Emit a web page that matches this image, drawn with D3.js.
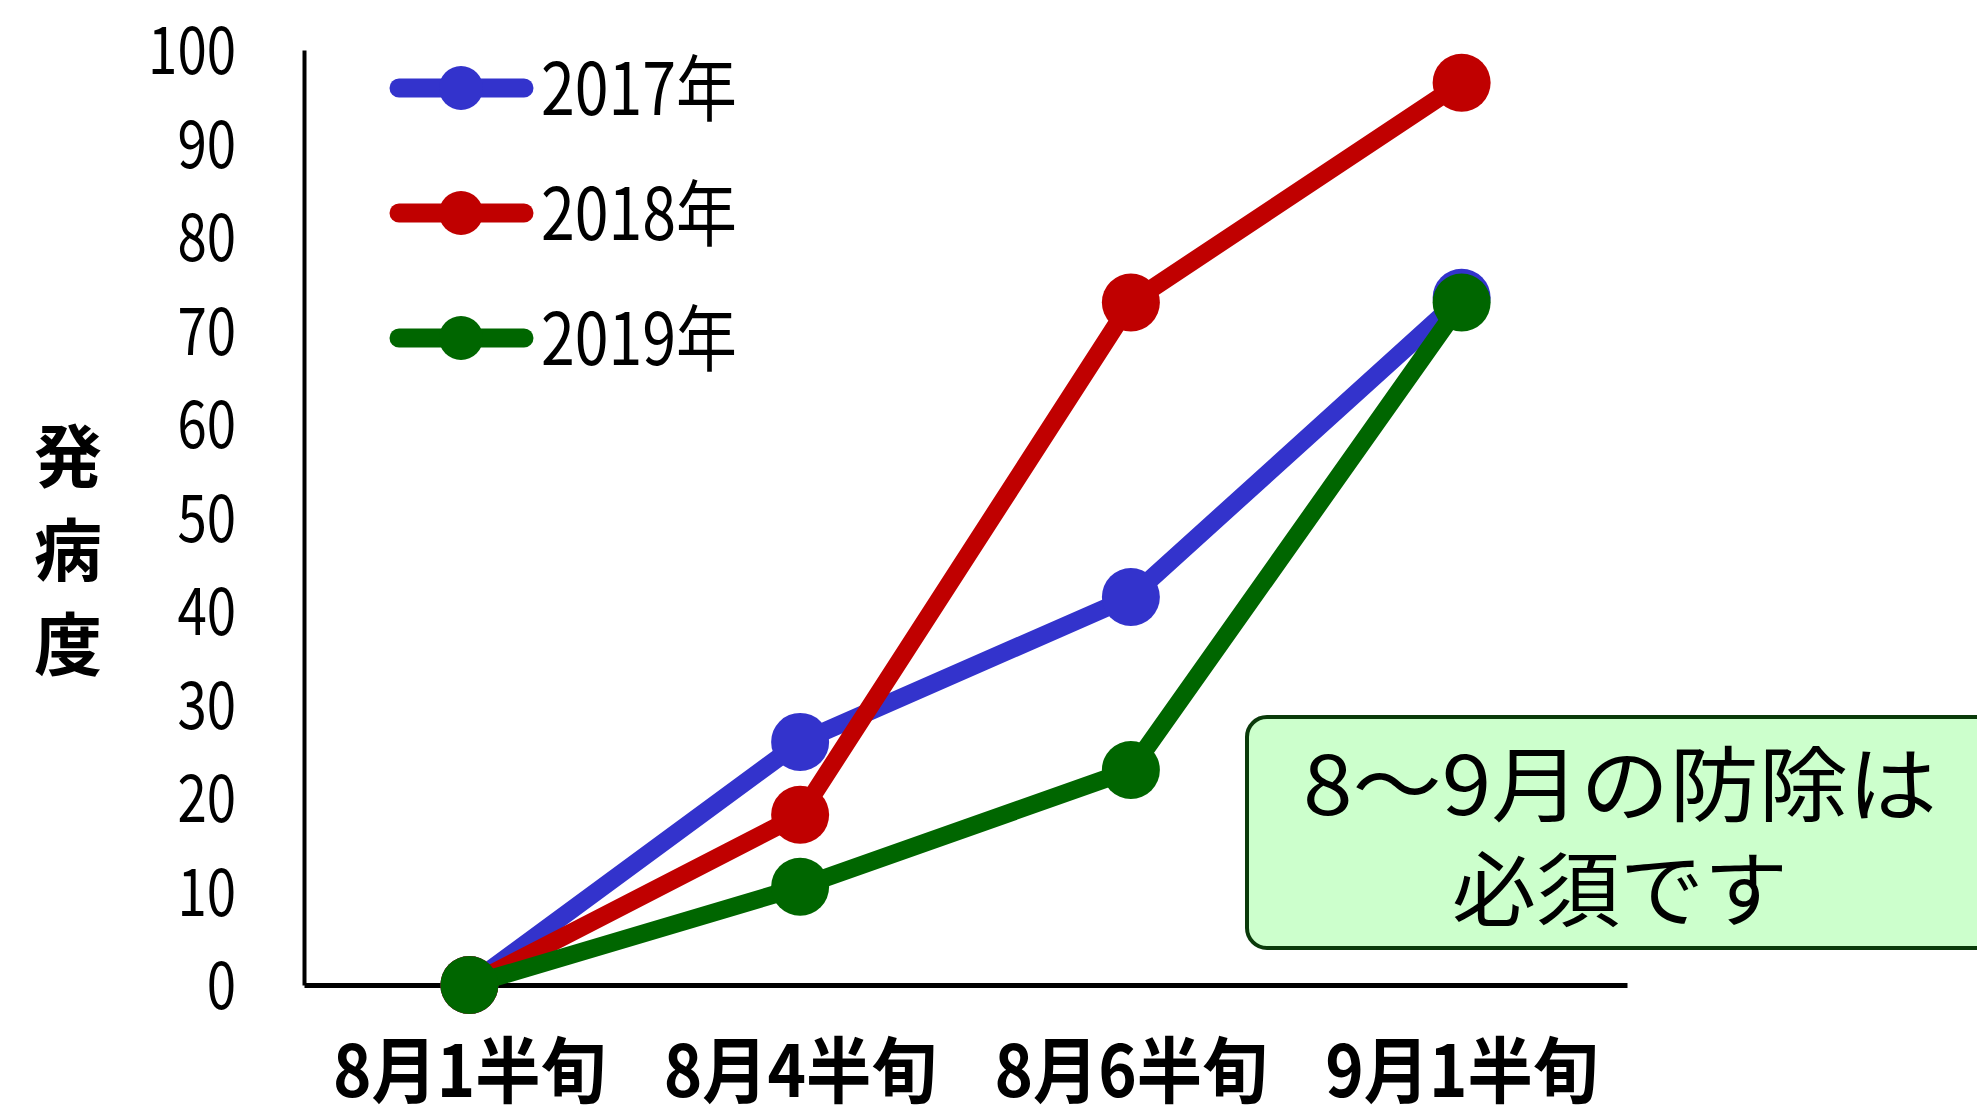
<!DOCTYPE html>
<html>
<head>
<meta charset="utf-8">
<script src="https://cdn.jsdelivr.net/npm/d3@7"></script>
<style>
  body { margin: 0; background: #fff; }
  text { font-family: "Noto Sans CJK JP", "Noto Sans", sans-serif; fill: #000; }
</style>
</head>
<body>
<div id="graphicContainer"></div>
<script>
// data
const categories = ["8月1半旬", "8月4半旬", "8月6半旬", "9月1半旬"]
const seriesNames = ["2017年", "2018年", "2019年"]
const values2017 = [0, 26, 41.5, 73.5]
const values2018 = [0, 18.2, 73, 96.5]
const values2019 = [0, 10.5, 23, 73]
const yTicks = [0, 10, 20, 30, 40, 50, 60, 70, 80, 90, 100]
const yTitle = ["発", "病", "度"]
const noteLines = ["8～9月の防除は", "必須です"]

const colors = ["#3333cc", "#c00000", "#006600"]
const series = [values2017, values2018, values2019].map(function (v, i) {
  return { name: seriesNames[i], color: colors[i], values: v }
})

var width = 1977
var height = 1114

var svg = d3.select("#graphicContainer").append("svg")
  .attr("width", width)
  .attr("height", height)

var x = d3.scalePoint().domain(categories).range([304, 1627]).padding(0.5)
var y = d3.scaleLinear().domain([0, 100]).range([985, 50])

// squeeze a text horizontally so it fits a given width
function squeeze(sel, targetW) {
  sel.each(function (d, i) {
    var t = d3.select(this)
    var w = this.getComputedTextLength()
    var k = typeof targetW == "function" ? targetW(w, i) : targetW / w
    t.attr("transform", (t.attr("data-tr") || "") + " scale(" + k + ",1)")
  })
}

// y axis
var yAxis = svg.append("g")
  .attr("transform", "translate(304,0)")
  .call(d3.axisLeft(y).tickValues(yTicks).tickSize(0).tickSizeOuter(0).tickPadding(0))
yAxis.select(".domain").attr("stroke", "#000").attr("stroke-width", 4)
yAxis.selectAll(".tick text")
  .attr("x", 0).attr("dy", "0.36em")
  .style("font-size", "66px")
  .style("font-family", "\"Noto Sans CJK JP\", sans-serif")
  .attr("data-tr", "translate(-68,0)")
squeeze(yAxis.selectAll(".tick text"), function () { return 0.8 })

// x axis
var xAxis = svg.append("g")
  .attr("transform", "translate(0,985)")
  .call(d3.axisBottom(x).tickSize(0).tickSizeOuter(0).tickFormat(""))
xAxis.select(".domain").attr("stroke", "#000").attr("stroke-width", 5)

var xLabels = svg.selectAll(".xLabel")
  .data(categories)
  .enter().append("text")
  .attr("class", "xLabel")
  .attr("data-tr", function (d) { return "translate(" + x(d) + ",1097)" })
  .attr("text-anchor", "middle")
  .style("font-size", "72px")
  .style("font-weight", "bold")
  .text(function (d) { return d })
squeeze(xLabels, 273)

// y title, one character per row
svg.selectAll(".yTitle")
  .data(yTitle)
  .enter().append("text")
  .attr("class", "yTitle")
  .attr("x", 68)
  .attr("y", function (d, i) { return 458 + i * 94 })
  .attr("dy", "0.36em")
  .attr("text-anchor", "middle")
  .style("font-size", "68px")
  .style("font-weight", "bold")
  .text(function (d) { return d })

// series
var line = d3.line()
  .x(function (d, i) { return x(categories[i]) })
  .y(function (d) { return y(d) })

series.forEach(function (s) {
  var g = svg.append("g")
  g.append("path")
    .attr("d", line(s.values))
    .attr("fill", "none")
    .attr("stroke", s.color)
    .attr("stroke-width", 18)
    .attr("stroke-linejoin", "round")
  g.selectAll("circle")
    .data(s.values)
    .enter().append("circle")
    .attr("cx", function (d, i) { return x(categories[i]) })
    .attr("cy", function (d) { return y(d) })
    .attr("r", 29)
    .attr("fill", s.color)
})

// legend
var legend = svg.selectAll(".legend")
  .data(series)
  .enter().append("g")
  .attr("class", "legend")
  .attr("transform", function (d, i) { return "translate(0," + (88 + i * 125) + ")" })

legend.append("line")
  .attr("x1", 399).attr("x2", 524)
  .attr("stroke", function (d) { return d.color })
  .attr("stroke-width", 19)
  .attr("stroke-linecap", "round")
legend.append("circle")
  .attr("cx", 461).attr("r", 22)
  .attr("fill", function (d) { return d.color })
var legendText = legend.append("text")
  .attr("data-tr", "translate(541,27)")
  .style("font-size", "72px")
  .text(function (d) { return d.name })
squeeze(legendText, 196)

// note box
svg.append("rect")
  .attr("x", 1247).attr("y", 717)
  .attr("width", 800).attr("height", 231)
  .attr("rx", 20)
  .attr("fill", "#ccffcc")
  .attr("stroke", "#0a3a0a")
  .attr("stroke-width", 4)

var noteWidths = [634, 336]
var noteText = svg.selectAll(".note")
  .data(noteLines)
  .enter().append("text")
  .attr("class", "note")
  .attr("data-tr", function (d, i) { return "translate(1620," + (815 + i * 105) + ")" })
  .attr("text-anchor", "middle")
  .style("font-size", "82px")
  .text(function (d) { return d })
squeeze(noteText, function (w, i) { return noteWidths[i] / w })
</script>
</body>
</html>
